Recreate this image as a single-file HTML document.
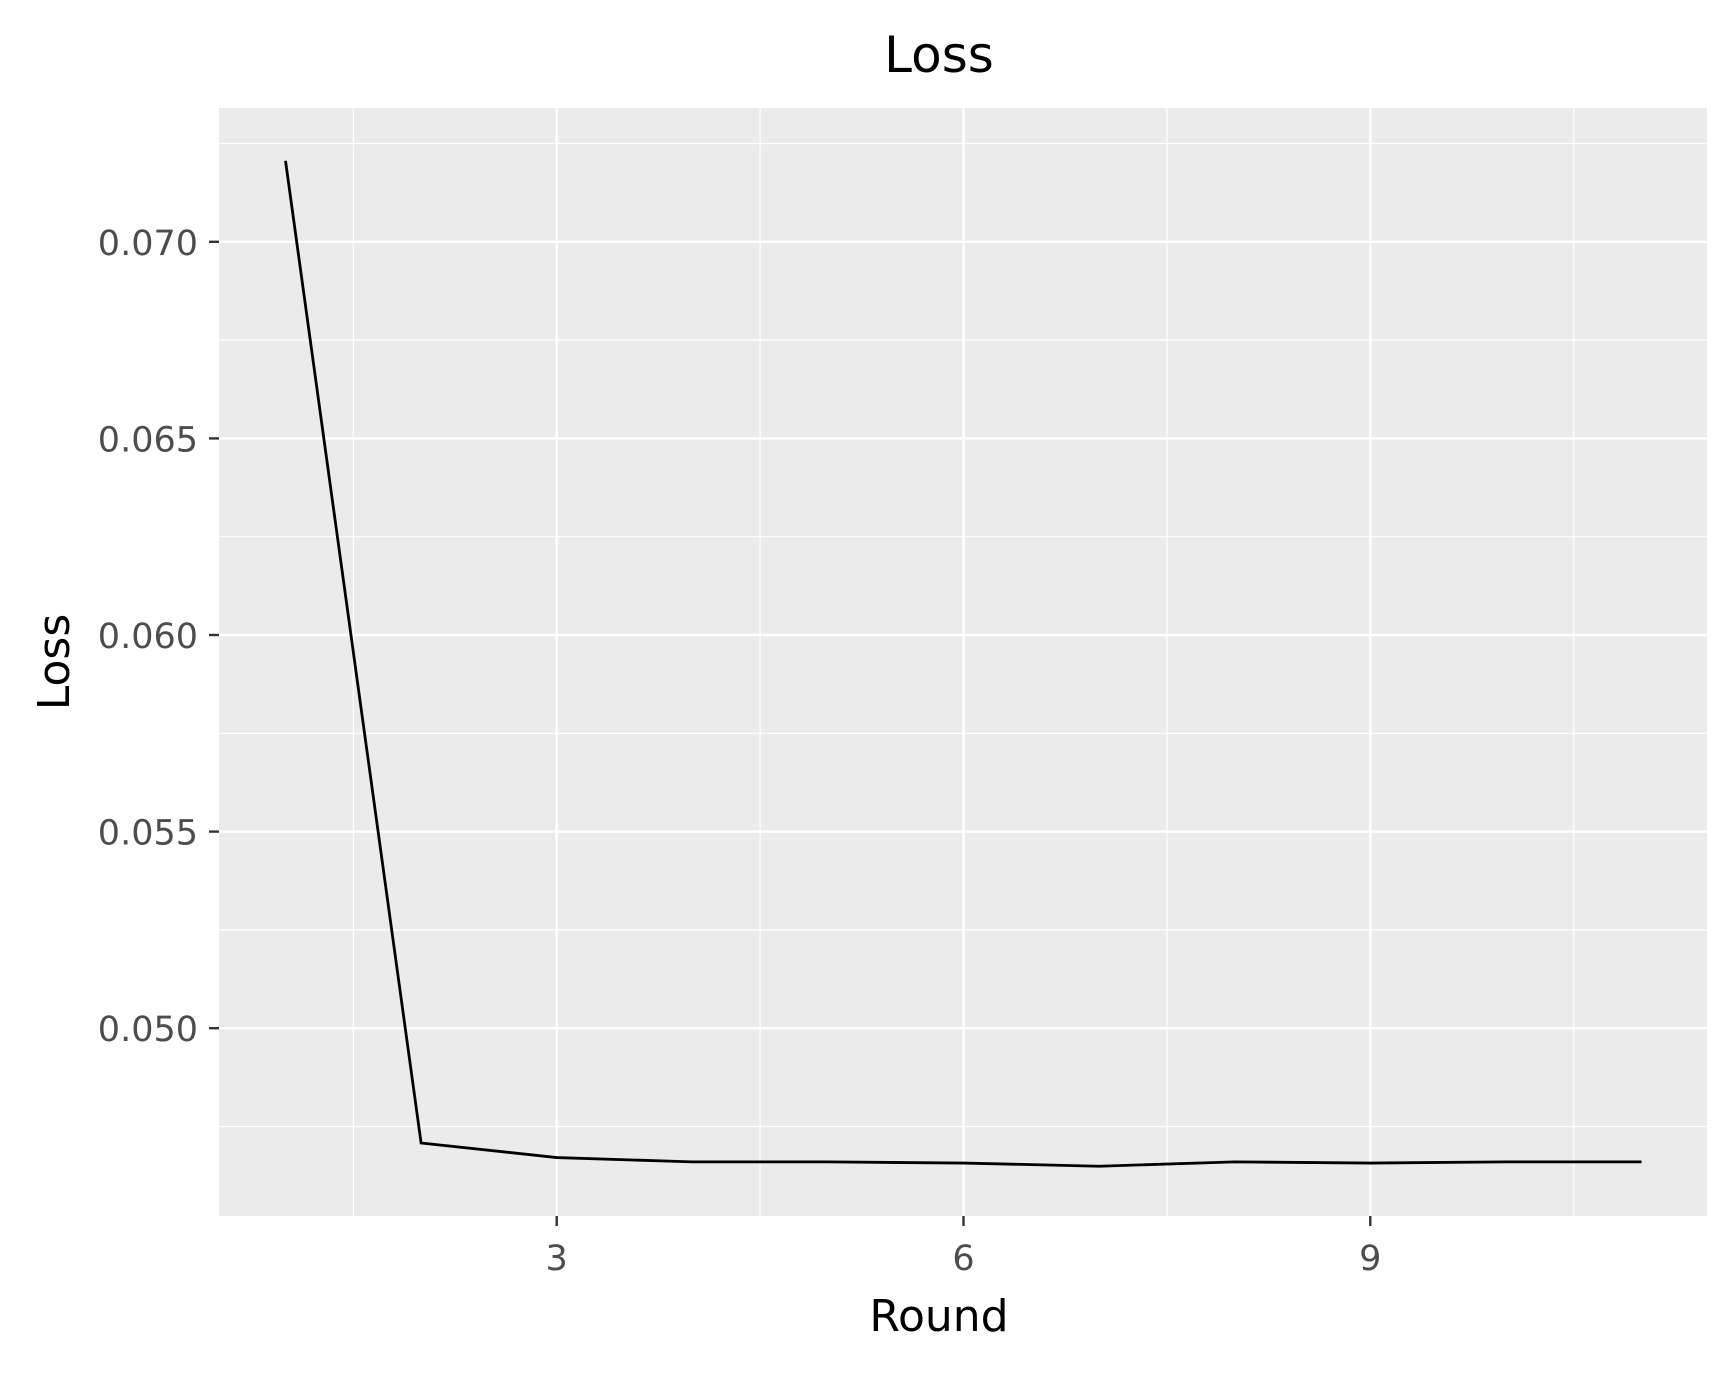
<!DOCTYPE html>
<html><head><meta charset="utf-8"><style>
body{margin:0;background:#fff}
svg text{font-family:"DejaVu Sans","Liberation Sans",sans-serif}
</style></head><body>
<svg id="chart" width="1736" height="1368" xmlns="http://www.w3.org/2000/svg"></svg>
<script>
const rounds=[1,2,3,4,5,6,7,8,9,10,11];
const lossValues=[0.07206,0.04708,0.04671,0.04660,0.04660,0.04657,0.04649,0.04660,0.04657,0.04660,0.04660];
const xTicks=[3,6,9];
const xMinor=[1.5,4.5,7.5,10.5];
const yTicks=[0.050,0.055,0.060,0.065,0.070];
const yTickLabels=["0.050","0.055","0.060","0.065","0.070"];
const yMinor=[0.0475,0.0525,0.0575,0.0625,0.0675,0.0725];

const L=219,R=1707,T=108,B=1216;
const x=v=>556.7+(v-3)*135.6;
const y=v=>241.8+(0.070-v)/0.005*196.6;
const svg=document.getElementById('chart');
const NS='http://www.w3.org/2000/svg';
function mk(tag,attrs,parent){const e=document.createElementNS(NS,tag);for(const k in attrs)e.setAttribute(k,attrs[k]);(parent||svg).appendChild(e);return e;}

const panel=mk('rect',{x:L,y:T,width:R-L,height:B-T,fill:'#ebebeb'});



xMinor.forEach(v=>{const l=mk('line',{x1:x(v),x2:x(v),y1:T,y2:B,stroke:'#fff','stroke-width':1.2});

});
yMinor.forEach(v=>{const l=mk('line',{x1:L,x2:R,y1:y(v),y2:y(v),stroke:'#fff','stroke-width':1.2});

});
xTicks.forEach(v=>{const l=mk('line',{x1:x(v),x2:x(v),y1:T,y2:B,stroke:'#fff','stroke-width':2.4});


const t=mk('line',{x1:x(v),x2:x(v),y1:B,y2:B+10,stroke:'#333','stroke-width':2.4});


const tx=mk('text',{x:x(v),y:B+54,'text-anchor':'middle','font-size':35,fill:'#4d4d4d'});tx.textContent=v;

});
yTicks.forEach((v,i)=>{const l=mk('line',{x1:L,x2:R,y1:y(v),y2:y(v),stroke:'#fff','stroke-width':2.4});


const t=mk('line',{x1:L-10,x2:L,y1:y(v),y2:y(v),stroke:'#333','stroke-width':2.4});


const tx=mk('text',{x:L-21,y:y(v)+13,'text-anchor':'end','font-size':35,fill:'#4d4d4d'});tx.textContent=yTickLabels[i];

});

const line=mk('polyline',{points:rounds.map((r,i)=>x(r)+','+y(lossValues[i])).join(' '),fill:'none',stroke:'#000','stroke-width':2.8});



const title=mk('text',{x:939,y:72,'text-anchor':'middle','font-size':50,fill:'#000'});title.textContent='Loss';


const xt=mk('text',{x:939,y:1331,'text-anchor':'middle','font-size':44,fill:'#000'});xt.textContent='Round';


const yt=mk('text',{x:0,y:0,'text-anchor':'middle','font-size':44,fill:'#000',transform:'translate(69,662) rotate(-90)'});yt.textContent='Loss';


</script>
</body></html>
